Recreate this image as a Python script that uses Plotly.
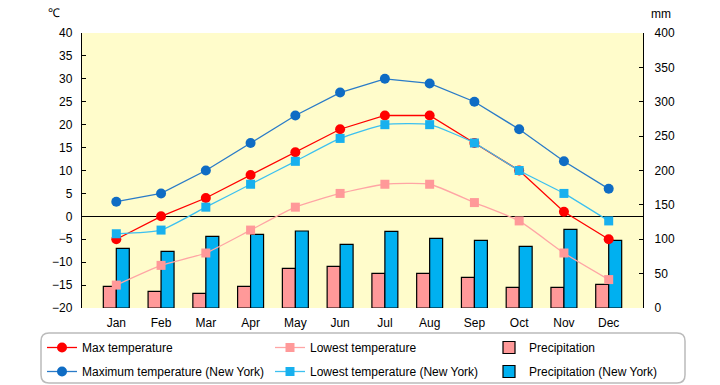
import plotly.graph_objects as go

months = ["Jan", "Feb", "Mar", "Apr", "May", "Jun", "Jul", "Aug", "Sep", "Oct", "Nov", "Dec"]
max_temp = [-5, 0, 4, 9, 14, 19, 22, 22, 16, 10, 1, -5]
low_temp = [-15, -10.7, -8, -3, 2, 5, 7, 7, 3, -1, -8, -13.8]
precip = [31.5, 24.2, 21.3, 31.5, 57.7, 60.6, 50.4, 50.4, 44.6, 30.1, 30.1, 34.4]
max_ny = [3.2, 5, 10, 16, 22, 27, 30, 29, 25, 19, 12, 6]
low_ny = [-3.8, -3, 2, 7, 12, 17, 20, 20, 16, 10, 5, -1]
precip_ny = [86.8, 82.4, 104.2, 107.2, 112, 92.6, 111.5, 101.4, 98.5, 89.7, 114.4, 98.5]

temp_ticks = list(range(-20, 41, 5))
mm_ticks = list(range(0, 401, 50))

FONT = "Liberation Sans, Arial, sans-serif"
RED = "#FF0000"
PINK = "#FF9999"
DBLUE = "#0F6CC4"
LBLUE = "#18B0EE"
BARBLUE = "#00B0F0"

W, H = 561.0, 275.0
def px(x):
    return (x - 82) / W
def py(y):
    return (308 - y) / H

fig = go.Figure()

fig.add_trace(go.Bar(x=months, y=precip, name="Precipitation", yaxis="y",
                     marker=dict(color=PINK, line=dict(color="black", width=1.2)),
                     legend="legend3"))
fig.add_trace(go.Bar(x=months, y=precip_ny, name="Precipitation (New York)", yaxis="y",
                     marker=dict(color=BARBLUE, line=dict(color="black", width=1.2)),
                     legend="legend6"))

fig.add_trace(go.Scatter(x=months, y=max_temp, name="Max temperature", yaxis="y2",
                         mode="lines+markers", line=dict(color=RED, width=1.3),
                         marker=dict(symbol="circle", size=10, color=RED),
                         legend="legend"))
fig.add_trace(go.Scatter(x=months, y=low_temp, name="Lowest temperature", yaxis="y2",
                         mode="lines+markers", line=dict(color="#FFA5A5", width=1.3, shape="spline", smoothing=0.5),
                         marker=dict(symbol="square", size=9, color=PINK),
                         legend="legend2"))
fig.add_trace(go.Scatter(x=months, y=max_ny, name="Maximum temperature (New York)", yaxis="y2",
                         mode="lines+markers", line=dict(color="#2A7BC8", width=1.3),
                         marker=dict(symbol="circle", size=10, color=DBLUE),
                         legend="legend4"))
fig.add_trace(go.Scatter(x=months, y=low_ny, name="Lowest temperature (New York)", yaxis="y2",
                         mode="lines+markers", line=dict(color="#3CC0F0", width=1.3, shape="spline", smoothing=0.5),
                         marker=dict(symbol="square", size=9, color=LBLUE),
                         legend="legend5"))

x0, x1, y0, y1, r = 41, 685, 333, 383, 8
path = (f"M {px(x0 + r)},{py(y0)} L {px(x1 - r)},{py(y0)} Q {px(x1)},{py(y0)} {px(x1)},{py(y0 + r)} "
        f"L {px(x1)},{py(y1 - r)} Q {px(x1)},{py(y1)} {px(x1 - r)},{py(y1)} "
        f"L {px(x0 + r)},{py(y1)} Q {px(x0)},{py(y1)} {px(x0)},{py(y1 - r)} "
        f"L {px(x0)},{py(y0 + r)} Q {px(x0)},{py(y0)} {px(x0 + r)},{py(y0)} Z")

def leg(xpix, ypix):
    return dict(orientation="v", xanchor="left", yanchor="middle",
                x=px(xpix), y=py(ypix), itemwidth=30,
                font=dict(family=FONT, size=12, color="black"),
                bgcolor="rgba(0,0,0,0)", borderwidth=0)

col = [42, 270, 489]
row = [347.5, 371.5]

fig.update_layout(
    width=720, height=385,
    margin=dict(l=82, r=77, t=33, b=77, autoexpand=False),
    paper_bgcolor="white",
    plot_bgcolor="#FFFCCB",
    font=dict(family=FONT, size=12, color="black"),
    barmode="group", bargap=0.42, bargroupgap=0,
    showlegend=True,
    legend=leg(col[0], row[0]),
    legend2=leg(col[1], row[0]),
    legend3=leg(col[2], row[0]),
    legend4=leg(col[0], row[1]),
    legend5=leg(col[1], row[1]),
    legend6=leg(col[2], row[1]),
    xaxis=dict(showline=False, showgrid=False, ticks="", tickfont=dict(size=12),
               zeroline=False, ticklabelstandoff=6),
    yaxis=dict(side="right", range=[0, 400], tickvals=mm_ticks, showgrid=False,
               showline=True, linecolor="black", linewidth=1.3, ticks="inside",
               ticklen=4, tickcolor="black", zeroline=False, tickfont=dict(size=12),
               ticklabelstandoff=8),
    yaxis2=dict(side="left", overlaying="y", range=[-20, 40], tickvals=temp_ticks,
                showgrid=False, showline=True, linecolor="black", linewidth=1.3,
                ticks="inside", ticklen=4, tickcolor="black", zeroline=True,
                zerolinecolor="black", zerolinewidth=1.3, tickfont=dict(size=12),
                ticklabelstandoff=6),
    shapes=[dict(type="path", xref="paper", yref="paper", path=path,
                 line=dict(color="#BBBBBB", width=1.5), fillcolor="rgba(0,0,0,0)", layer="below")],
    annotations=[
        dict(text="℃", xref="paper", yref="paper", x=px(54), y=py(13), showarrow=False,
             xanchor="center", yanchor="middle", font=dict(size=12)),
        dict(text="mm", xref="paper", yref="paper", x=px(661), y=py(14), showarrow=False,
             xanchor="center", yanchor="middle", font=dict(size=12)),
    ],
)

fig.write_html("out.html", config={"displayModeBar": False},
               post_script="document.body.style.margin='0';document.body.style.padding='0';")
